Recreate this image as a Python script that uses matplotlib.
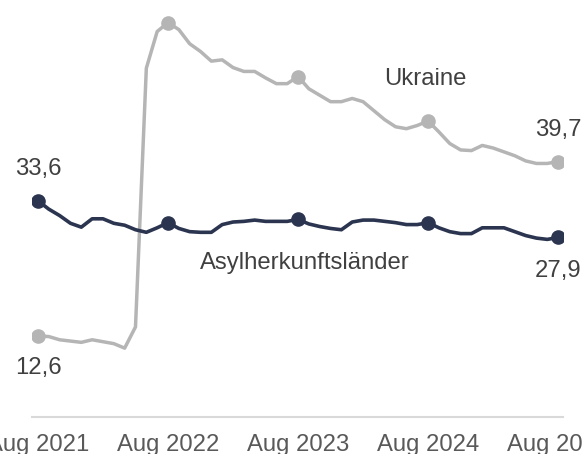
import numpy as np
import matplotlib.pyplot as plt

plt.rcParams["font.family"] = ["Liberation Sans", "DejaVu Sans"]

# monthly values, Aug 2021 .. Aug 2025
months = np.arange(49)
tick_pos = [0, 12, 24, 36, 48]
tick_labels = ["Aug 2021", "Aug 2022", "Aug 2023", "Aug 2024", "Aug 2025"]

ukraine = [12.6, 12.5, 12.0, 11.8, 11.6, 12.0, 11.7, 11.4, 10.7, 14.0,
           54.2, 59.9, 61.3, 60.2, 58.0, 56.8, 55.3, 55.5, 54.3, 53.7,
           53.7, 52.7, 51.8, 51.8, 52.9, 51.0, 50.0, 49.0, 49.0, 49.5,
           49.0, 47.6, 46.2, 45.1, 44.8, 45.3, 46.0, 44.3, 42.5, 41.5,
           41.4, 42.2, 41.8, 41.2, 40.6, 39.8, 39.4, 39.4, 39.7]

asyl = [33.6, 32.3, 31.3, 30.1, 29.5, 30.8, 30.8, 30.1, 29.8, 29.1,
        28.7, 29.4, 30.2, 29.3, 28.8, 28.7, 28.7, 29.9, 30.3, 30.4,
        30.6, 30.4, 30.4, 30.4, 30.7, 30.0, 29.6, 29.3, 29.1, 30.3,
        30.6, 30.6, 30.4, 30.2, 29.9, 29.9, 30.2, 29.4, 28.8, 28.5,
        28.5, 29.4, 29.4, 29.4, 28.8, 28.2, 27.8, 27.6, 27.9]

GRAY = "#b5b5b5"
NAVY = "#2b3550"
TEXT = "#404040"

fig = plt.figure(figsize=(5.82, 4.54), dpi=100)
ax = fig.add_axes([32 / 582, 37 / 454, 531 / 582, 417 / 454])

ax.plot(months, ukraine, color=GRAY, lw=2.5, solid_joinstyle="round", zorder=2)
ax.plot(months, asyl, color=NAVY, lw=2.6, solid_joinstyle="round", zorder=3)

# yearly markers
ax.plot(tick_pos, [ukraine[i] for i in tick_pos], "o", color=GRAY, ms=9.5, zorder=2)
ax.plot(tick_pos, [asyl[i] for i in tick_pos], "o", color=NAVY, ms=9.5, zorder=3)

fs = 17.2
fmt = lambda v: f"{v:.1f}".replace(".", ",")
ax.annotate(fmt(asyl[0]), (0, asyl[0]), xytext=(0, 23), textcoords="offset points",
            ha="center", va="center", fontsize=fs, color=TEXT)
ax.annotate(fmt(ukraine[0]), (0, ukraine[0]), xytext=(0, -23), textcoords="offset points",
            ha="center", va="center", fontsize=fs, color=TEXT)
ax.annotate(fmt(ukraine[-1]), (48, ukraine[-1]), xytext=(0, 23), textcoords="offset points",
            ha="center", va="center", fontsize=fs, color=TEXT)
ax.annotate(fmt(asyl[-1]), (48, asyl[-1]), xytext=(0, -24), textcoords="offset points",
            ha="center", va="center", fontsize=fs, color=TEXT)

ax.text(35.7, 52.5, "Ukraine", ha="center", va="center", fontsize=fs, color=TEXT)
ax.text(24.6, 24.0, "Asylherkunftsländer", ha="center", va="center", fontsize=fs, color=TEXT)

ax.set_xlim(-0.55, 48.45)
ax.set_ylim(0, 64.8)
ax.set_xticks(tick_pos)
ax.set_xticklabels(tick_labels, fontsize=fs, color="#595959")
ax.tick_params(axis="x", length=0, pad=12)
ax.set_yticks([])
for side in ["top", "left", "right"]:
    ax.spines[side].set_visible(False)
ax.spines["bottom"].set_color("#d9d9d9")
ax.spines["bottom"].set_linewidth(1.5)
ax.patch.set_alpha(0)

fig.savefig("out.png", dpi=100)
